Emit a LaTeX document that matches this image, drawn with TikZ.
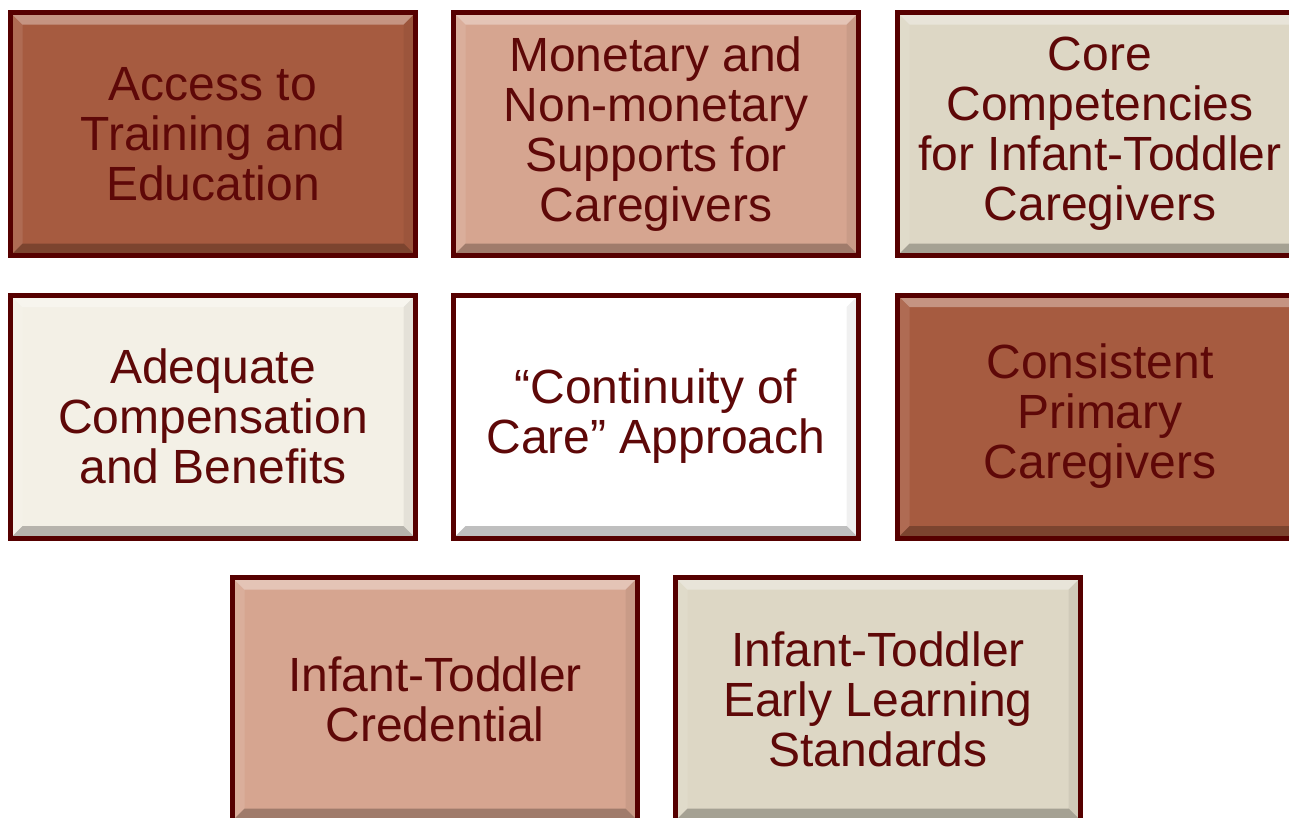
\documentclass[tikz,border=0pt]{standalone}
\usepackage{fontspec}
\setmainfont{Liberation Sans}
\usepackage{tikz}
\definecolor{rimred}{HTML}{560000}
\definecolor{textred}{HTML}{5E0808}
\definecolor{brick}{HTML}{A65B40}
\definecolor{salmon}{HTML}{D6A590}
\definecolor{sand}{HTML}{DDD7C5}
\definecolor{cream}{HTML}{F3F0E6}
\tikzset{
  tile/.style={draw=rimred, line width=5pt, minimum width=405pt, minimum height=243pt,
    inner sep=0pt, align=center, text=textred, font=\fontsize{48}{50}\selectfont,
    path picture={
      \coordinate (nw) at (path picture bounding box.north west);
      \coordinate (ne) at (path picture bounding box.north east);
      \coordinate (sw) at (path picture bounding box.south west);
      \coordinate (se) at (path picture bounding box.south east);
      \fill[white,opacity=.35] (nw) -- (ne) -- ([shift={(-12pt,-12pt)}]ne) -- ([shift={(12pt,-12pt)}]nw) -- cycle;
      \fill[white,opacity=.1] (nw) -- (sw) -- ([shift={(12pt,12pt)}]sw) -- ([shift={(12pt,-12pt)}]nw) -- cycle;
      \fill[black,opacity=.06] (ne) -- (se) -- ([shift={(-12pt,12pt)}]se) -- ([shift={(-12pt,-12pt)}]ne) -- cycle;
      \fill[black,opacity=.25] (sw) -- (se) -- ([shift={(-12pt,12pt)}]se) -- ([shift={(12pt,12pt)}]sw) -- cycle;
    }}
}

\begin{document}
\begin{tikzpicture}[x=1pt,y=1pt]
\useasboundingbox (0,0) rectangle (1289,-817);
% top row
\node[tile, fill=brick] (access) at (213,-134) {Access to\\Training and\\Education};
\node[tile, fill=salmon] (supports) at (656,-134) {Monetary and\\Non-monetary\\Supports for\\Caregivers};
\node[tile, fill=sand] (core) at (1100,-134) {Core\\Competencies\\for Infant-Toddler\\Caregivers};
% middle row
\node[tile, fill=cream] (pay) at (213,-416.5) {Adequate\\Compensation\\and Benefits};
\node[tile, fill=white] (continuity) at (656,-416.5) {“Continuity of\\Care” Approach};
\node[tile, fill=brick] (primary) at (1100,-416.5) {Consistent\\Primary\\Caregivers};
% bottom row
\node[tile, fill=salmon] (credential) at (435,-699) {Infant-Toddler\\Credential};
\node[tile, fill=sand] (standards) at (878,-699) {Infant-Toddler\\Early Learning\\Standards};
\end{tikzpicture}
\end{document}
